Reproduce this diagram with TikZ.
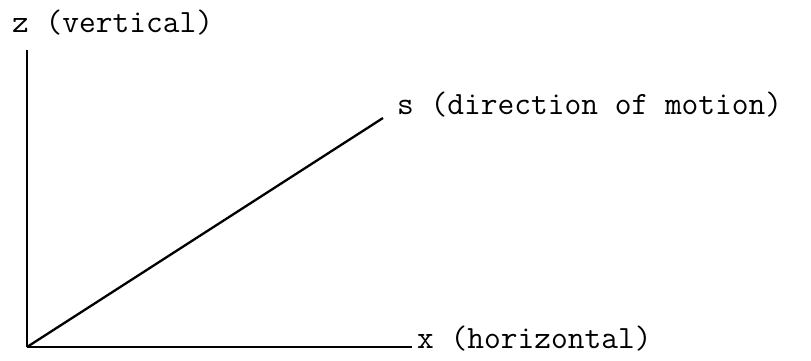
\documentclass[tikz,border=0pt]{standalone}
\begin{document}
\begin{tikzpicture}[x=1pt,y=-1pt,
    axis/.style={line width=2.3pt},
    lbl/.style={anchor=base west, inner sep=0pt, font=\ttfamily\fontsize{32.5}{40}\selectfont}]
            \useasboundingbox (0,0) rectangle (811,361);
            % ---------- origin ----------
            \coordinate (O) at (27,347);
            % ---------- z ----------
            \coordinate (ztop) at (27,50);
            \node[lbl] (zlabel) at (12,33) {z (vertical)};
            \draw[axis] (O) -- (ztop);
            % ---------- x ----------
            \coordinate (xend) at (412,347);
            \node[lbl] (xlabel) at (417,348) {x (horizontal)};
            \draw[axis] (O) -- (xend);
            % ---------- s ----------
            \coordinate (send) at (383,118);
            \node[lbl] (slabel) at (397,114) {s (direction of motion)};
            \draw[axis] (O) -- (send);
        \end{tikzpicture}
\end{document}
